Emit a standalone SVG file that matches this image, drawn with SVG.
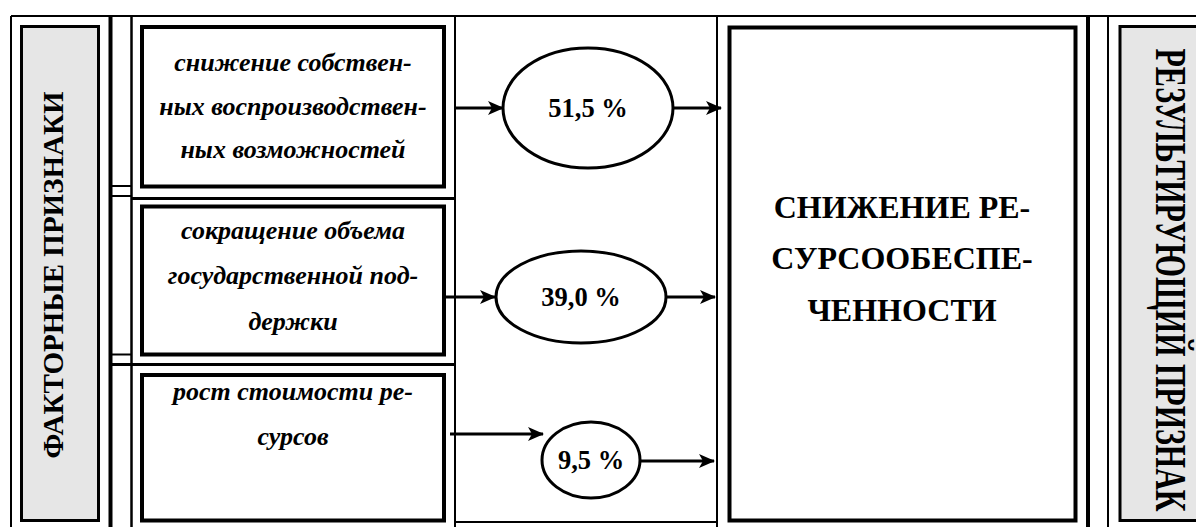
<svg xmlns="http://www.w3.org/2000/svg" width="1196" height="527" viewBox="0 0 1196 527">
<defs>
<style>
.grid{stroke:#000;fill:none}
.box{fill:#fff;stroke:#000;stroke-width:4}
.gray{fill:#e6e6e6;stroke:#000;stroke-width:3}
.ell{fill:#fff;stroke:#000;stroke-width:3}
.conn{stroke:#000;stroke-width:3;fill:none;marker-end:url(#ah)}
text{font-family:'Liberation Serif','Times New Roman',serif;font-weight:bold;text-anchor:middle}
.it{font-style:italic;font-size:26px}
.pc{font-size:26.5px}
.res{font-size:32px}
</style>
<marker id="ah" markerUnits="userSpaceOnUse" markerWidth="16" markerHeight="14" refX="15" refY="7" orient="auto">
<path d="M0,0 L16,7 L0,14 L4,7 z" fill="#000"/>
</marker>
</defs>
<rect width="1196" height="527" fill="#fff"/>
<g id="grid">
<line class="grid" x1="11" y1="16" x2="1196" y2="16" stroke-width="2"/>
<line class="grid" x1="11" y1="16" x2="11" y2="527" stroke-width="2"/>
<line class="grid" x1="110.5" y1="16" x2="110.5" y2="527" stroke-width="4"/>
<line class="grid" x1="131.5" y1="16" x2="131.5" y2="527" stroke-width="2.5"/>
<line class="grid" x1="455" y1="16" x2="455" y2="527" stroke-width="2"/>
<line class="grid" x1="717" y1="16" x2="717" y2="527" stroke-width="2"/>
<line class="grid" x1="1088" y1="16" x2="1088" y2="527" stroke-width="4"/>
<line class="grid" x1="1108" y1="16" x2="1108" y2="527" stroke-width="2"/>
<line class="grid" x1="112" y1="186" x2="131" y2="186" stroke-width="2"/>
<line class="grid" x1="112" y1="196" x2="131" y2="196" stroke-width="2"/>
<line class="grid" x1="131" y1="198.5" x2="455" y2="198.5" stroke-width="3"/>
<line class="grid" x1="112" y1="354.5" x2="131" y2="354.5" stroke-width="2"/>
<line class="grid" x1="112" y1="364.5" x2="455" y2="364.5" stroke-width="3"/>
<line class="grid" x1="455" y1="522" x2="717" y2="522" stroke-width="2"/>
</g>
<g id="left-label">
<rect class="gray" x="21.5" y="26.5" width="77" height="494"/>
<text font-size="29" transform="translate(63,275) rotate(-90)">ФАКТОРНЫЕ ПРИЗНАКИ</text>
</g>
<g id="factor1">
<rect class="box" x="142" y="27" width="302" height="159.5"/>
<text class="it" x="293" y="71">снижение собствен-</text>
<text class="it" x="293" y="115">ных воспроизводствен-</text>
<text class="it" x="293" y="158">ных возможностей</text>
</g>
<g id="factor2">
<rect class="box" x="142" y="206.5" width="302" height="148"/>
<text class="it" x="293" y="239">сокращение объема</text>
<text class="it" x="293" y="284">государственной под-</text>
<text class="it" x="293" y="330">держки</text>
</g>
<g id="factor3">
<rect class="box" x="142" y="375" width="302" height="145.5"/>
<text class="it" x="293" y="400">рост стоимости ре-</text>
<text class="it" x="293" y="445">сурсов</text>
</g>
<g id="p1">
<ellipse class="ell" cx="588" cy="108" rx="85" ry="60"/>
<text class="pc" x="588" y="117">51,5 %</text>
</g>
<g id="p2">
<ellipse class="ell" cx="581" cy="297" rx="85" ry="46"/>
<text class="pc" x="581" y="306">39,0 %</text>
</g>
<g id="p3">
<ellipse class="ell" cx="591" cy="460" rx="49" ry="38"/>
<text class="pc" x="591" y="469">9,5 %</text>
</g>
<g id="result">
<rect class="box" x="729.5" y="27.5" width="346" height="493"/>
<text class="res" x="902" y="218">СНИЖЕНИЕ РЕ-</text>
<text class="res" x="902" y="269">СУРСООБЕСПЕ-</text>
<text class="res" x="902" y="321">ЧЕННОСТИ</text>
</g>
<g id="right-label">
<rect class="gray" x="1120" y="26.5" width="90" height="494"/>
<text font-size="30" transform="translate(1156,280) rotate(90) scale(1,1.45)">РЕЗУЛЬТИРУЮЩИЙ ПРИЗНАК</text>
</g>
<g id="connectors">
<line class="conn" x1="455" y1="108" x2="503" y2="108"/>
<line class="conn" x1="673" y1="108" x2="721" y2="108"/>
<line class="conn" x1="446" y1="297" x2="495" y2="297"/>
<line class="conn" x1="666" y1="297" x2="715" y2="297"/>
<line class="conn" x1="450" y1="434" x2="543" y2="434"/>
<line class="conn" x1="641" y1="461" x2="714" y2="461"/>
</g>
</svg>
